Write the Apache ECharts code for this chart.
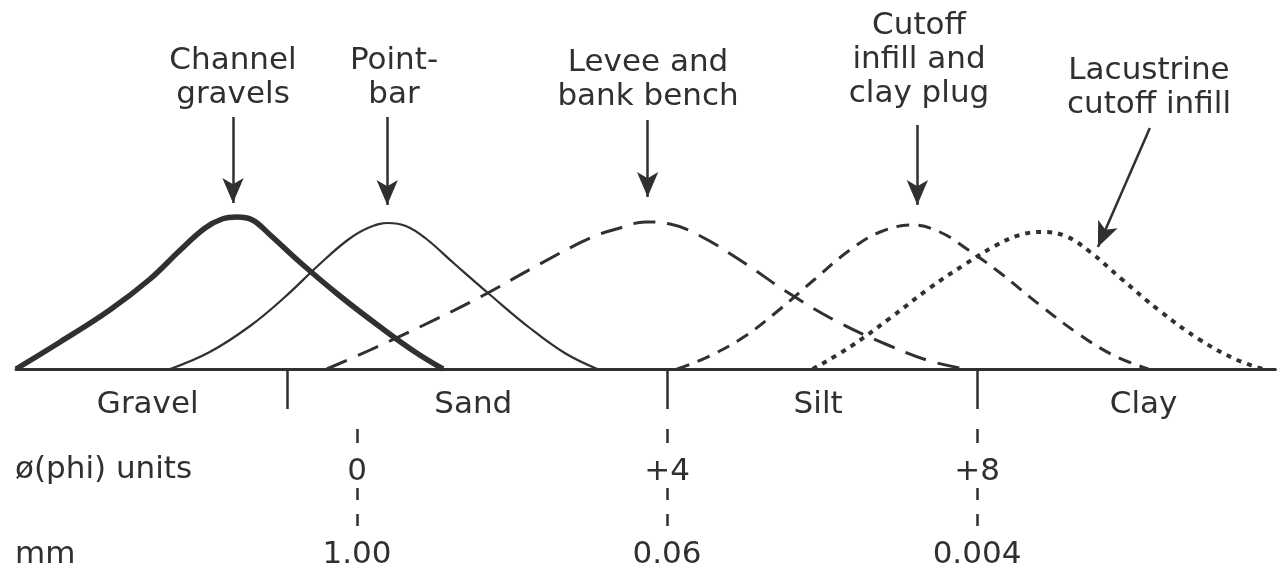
<!DOCTYPE html>
<html>
<head>
<meta charset="utf-8">
<title>Grain size of fluvial deposits</title>
<script src="https://cdn.jsdelivr.net/npm/echarts@6/dist/echarts.min.js"></script>
<style>
  html, body { margin: 0; padding: 0; background: #fff; }
  #chart { width: 1278px; height: 573px; }
</style>
</head>
<body>
<div id="chart"></div>
<script>
// x = grain size in phi units, y = relative frequency (arbitrary units)
const channelGravels = [[-4.40, 0], [-3.83, 27], [-3.19, 59], [-2.67, 90], [-2.28, 119], [-1.96, 141], [-1.74, 150],
  [-1.55, 152], [-1.35, 149], [-1.12, 134], [-0.74, 107], [-0.22, 73], [0.30, 42], [0.75, 17], [1.11, 0]]
const pointBar = [[-2.41, 0], [-1.90, 17], [-1.38, 43], [-0.93, 72], [-0.48, 105], [-0.12, 129], [0.14, 141],
  [0.40, 146], [0.63, 143], [0.88, 131], [1.26, 105], [1.72, 74], [2.23, 41], [2.68, 16], [3.10, 0]]
const leveeBank = [[-0.39, 0], [0.17, 19], [0.81, 42], [1.59, 72], [2.36, 105], [3.01, 131], [3.39, 141], [3.72, 147],
  [4.04, 145], [4.43, 133], [4.94, 109], [5.59, 75], [6.23, 46], [6.88, 23], [7.39, 8], [7.85, 0]]
const cutoffPlug = [[4.13, 0], [4.55, 13], [5.01, 33], [5.46, 60], [5.91, 90], [6.36, 119], [6.75, 137], [7.17, 144],
  [7.52, 137], [7.85, 121], [8.30, 96], [8.81, 64], [9.33, 34], [9.78, 13], [10.21, 0]]
const lacustrine = [[5.88, 0], [6.36, 22], [6.88, 51], [7.39, 81], [7.85, 105], [8.23, 123], [8.55, 134], [8.84, 137],
  [9.14, 133], [9.46, 117], [9.85, 91], [10.36, 58], [10.88, 29], [11.33, 10], [11.68, 0]]

const classNames = ['Gravel', 'Sand', 'Silt', 'Clay']
const classLabelAt = [-2.7, 1.5, 5.95, 10.15]
const classBounds = [-0.9, 4, 8]
const phiTicks = [0, 4, 8]
const mmLabels = ['1.00', '0.06', '0.004']

// label text, label anchor (px), arrow from -> to (data coords)
const notes = [
  { text: 'Channel\ngravels', x: 233, y: 44, arrow: [[-1.60, 252], [-1.60, 166]] },
  { text: 'Point-\nbar', x: 394, y: 44, arrow: [[0.39, 252], [0.39, 164]] },
  { text: 'Levee and\nbank bench', x: 648, y: 46, arrow: [[3.75, 249], [3.75, 172]] },
  { text: 'Cutoff\ninfill and\nclay plug', x: 919, y: 9, arrow: [[7.23, 244], [7.23, 164]] },
  { text: 'Lacustrine\ncutoff infill', x: 1149, y: 54, arrow: [[10.23, 241], [9.56, 122]] }
]

const ink = '#303030'
const font = 'DejaVu Sans'
const xMin = -4.4, xMax = 11.85

const nearest = (arr, v) => {
  let best = 0
  arr.forEach((a, i) => { if (Math.abs(a - v) < Math.abs(arr[best] - v)) best = i })
  return best
}

const curve = (name, data, width, type, note) => ({
  name,
  type: 'line',
  data,
  smooth: 0.4,
  showSymbol: false,
  clip: false,
  silent: true,
  lineStyle: { color: ink, width, type, cap: 'butt' },
  markLine: {
    silent: true,
    symbol: ['none', 'arrow'],
    symbolSize: [16, 25],
    label: { show: false },
    lineStyle: { color: ink, width: 2.5, type: 'solid' },
    data: [[{ coord: note.arrow[0] }, { coord: note.arrow[1] }]]
  }
})

const rowAxis = (offset, tickLen, tickType, margin, fmt) => ({
  type: 'value', min: xMin, max: xMax, position: 'bottom', offset,
  axisLine: { show: false, onZero: false },
  axisTick: { show: true, customValues: phiTicks, length: tickLen, lineStyle: { color: ink, width: 2.5, type: tickType } },
  axisLabel: { customValues: phiTicks, margin, fontSize: 31, fontFamily: font, color: ink, formatter: fmt },
  splitLine: { show: false }
})

const chart = echarts.init(document.getElementById('chart'))
chart.setOption({
  backgroundColor: '#fff',
  animation: false,
  grid: { left: 16, right: 2.6, top: 69, bottom: 204 },
  xAxis: [
    {
      type: 'value', min: xMin, max: xMax, position: 'bottom',
      axisLine: { onZero: false, lineStyle: { color: ink, width: 3 } },
      axisTick: { show: true, customValues: classBounds, length: 40, lineStyle: { color: ink, width: 2.5 } },
      axisLabel: {
        customValues: classLabelAt, margin: 20, fontSize: 31, fontFamily: font, color: ink,
        formatter: v => classNames[nearest(classLabelAt, v)]
      },
      splitLine: { show: false }
    },
    rowAxis(60, 14, 'solid', 27, v => (v > 0 ? '+' + v : String(v))),
    rowAxis(119, 40, [12, 14], 51, v => mmLabels[nearest(phiTicks, v)])
  ],
  yAxis: { type: 'value', min: 0, max: 300, show: false },
  graphic: [
    ...notes.map(n => ({
      type: 'text', x: n.x, y: n.y, silent: true,
      style: { text: n.text, fill: ink, font: '31px "' + font + '"', align: 'center', verticalAlign: 'top', lineHeight: 34 }
    })),
    { type: 'text', x: 15, y: 470, silent: true,
      style: { text: 'ø(phi) units', fill: ink, font: '31px "' + font + '"', verticalAlign: 'middle' } },
    { type: 'text', x: 15, y: 555, silent: true,
      style: { text: 'mm', fill: ink, font: '31px "' + font + '"', verticalAlign: 'middle' } }
  ],
  series: [
    curve('Channel gravels', channelGravels, 5.5, 'solid', notes[0]),
    curve('Point-bar', pointBar, 2.2, 'solid', notes[1]),
    curve('Levee and bank bench', leveeBank, 3, [22, 12], notes[2]),
    curve('Cutoff infill and clay plug', cutoffPlug, 3, [13, 9], notes[3]),
    curve('Lacustrine cutoff infill', lacustrine, 4, [5, 6], notes[4])
  ]
})
</script>
</body>
</html>
